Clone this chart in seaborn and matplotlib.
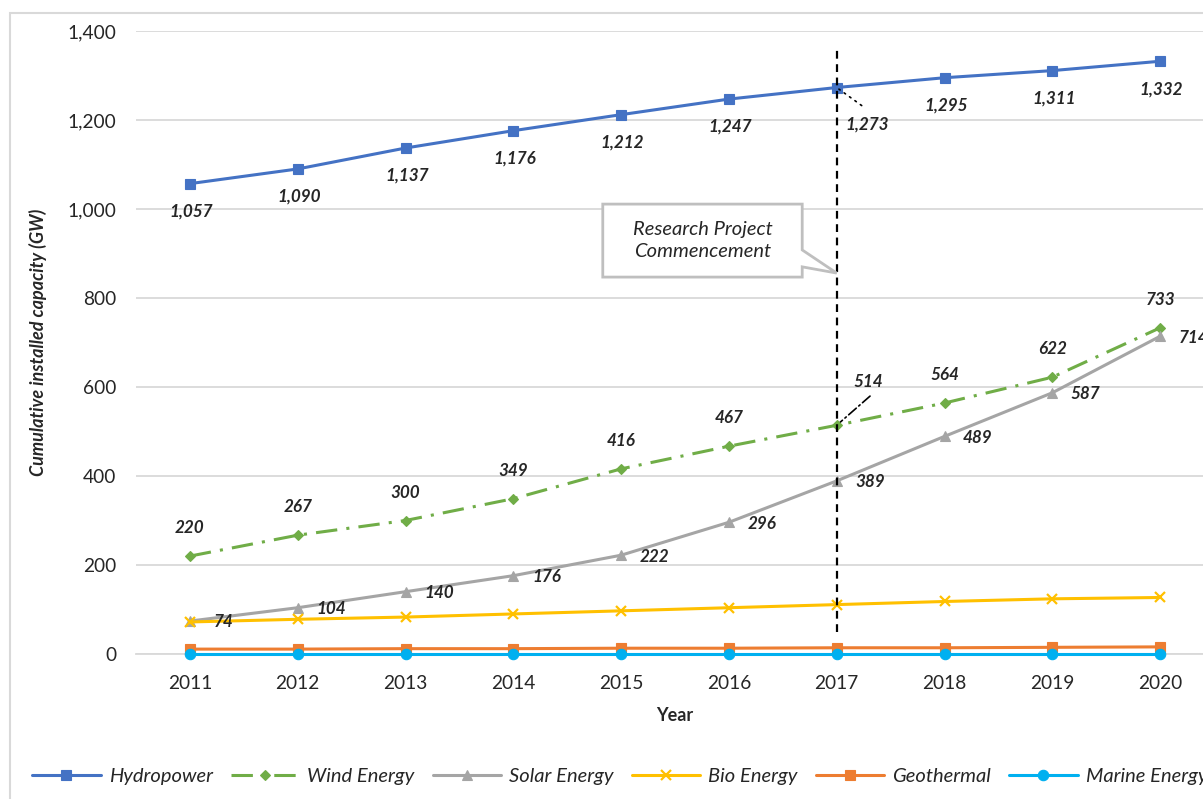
import matplotlib
matplotlib.use("Agg")
import matplotlib.pyplot as plt
import numpy as np
import seaborn as sns
from matplotlib.patches import Polygon, Rectangle

years = [2011, 2012, 2013, 2014, 2015, 2016, 2017, 2018, 2019, 2020]
hydro = [1057, 1090, 1137, 1176, 1212, 1247, 1273, 1295, 1311, 1332]
wind = [220, 267, 300, 349, 416, 467, 514, 564, 622, 733]
solar = [74, 104, 140, 176, 222, 296, 389, 489, 587, 714]
bio = [72, 78, 83, 90, 97, 104, 111, 118, 124, 127]
geo = [11, 11, 12, 12, 13, 13, 14, 14, 15, 16]
marine = [0.5, 0.5, 0.5, 0.5, 0.5, 0.5, 0.5, 0.5, 0.5, 0.5]
y_ticks = [0, 200, 400, 600, 800, 1000, 1200, 1400]
event_year = 2017
event_text = "Research Project\nCommencement"

sns.set_style("white")
plt.rcParams['font.family'] = ['Lato', 'DejaVu Sans']

fig = plt.figure(figsize=(12.03, 7.99), dpi=100)
ax = fig.add_axes([136 / 1203, 145 / 799, 1078 / 1203, 623 / 799])

# chart frame (excel style)
fig.patches.append(Rectangle((10 / 1203, -0.1), 1.2, 1.1 - 13 / 799, transform=fig.transFigure,
                             fill=False, edgecolor='#D9D9D9', lw=1.5))

series = [
    ("Hydropower", hydro, '#4472C4', 's', None, 7),
    ("Wind Energy", wind, '#70AD47', 'D', (7, 3, 1, 3), 5.5),
    ("Solar Energy", solar, '#A5A5A5', '^', None, 7),
    ("Bio Energy", bio, '#FFC000', 'x', None, 7),
    ("Geothermal", geo, '#ED7D31', 's', None, 7),
    ("Marine Energy", marine, '#00B0F0', 'o', None, 7.5),
]
for i, (name, vals, col, mk, dash, ms) in enumerate(series):
    sns.lineplot(x=years, y=vals, ax=ax, color=col, marker=mk, markersize=ms,
                 markeredgecolor=col, markerfacecolor=col, markeredgewidth=1.6 if mk == 'x' else 0.8,
                 linewidth=2.2, label=name, legend=False, clip_on=False, zorder=3 + i * 0.1)
    if dash is not None:
        ax.lines[-1].set_dashes(dash)

ax.set_xlim(years[0] - 0.5, years[-1] + 0.5)
ax.set_ylim(0, 1400)
ax.set_xticks(years)
ax.set_xticklabels([str(y) for y in years])
ax.set_yticks(y_ticks)
ax.set_yticklabels([f"{v:,}" for v in y_ticks])
ax.tick_params(axis='both', labelsize=13.8, length=0)
ax.tick_params(axis='y', pad=14)
ax.tick_params(axis='x', pad=15)
ax.grid(axis='y', color='#D9D9D9', lw=1.3)
ax.set_axisbelow(True)
for s in ['top', 'right', 'left']:
    ax.spines[s].set_visible(False)
ax.spines['bottom'].set_color('#D9D9D9')
ax.spines['bottom'].set_linewidth(1.3)
ax.spines['bottom'].set_zorder(1)

ax.set_xlabel("Year", fontsize=13, fontweight='bold', labelpad=11)
ax.set_ylabel("Cumulative installed capacity (GW)", fontsize=13, fontweight='bold',
              fontstyle='italic', labelpad=15)

# event line
ax.vlines(event_year, 50, 1357, colors='black', linestyles=(0, (3.5, 2.5)), lw=1.6, zorder=5)

lab = dict(fontsize=12.3, fontweight='bold', fontstyle='italic', ha='center', va='center',
           textcoords='offset points', zorder=8)
for x, v in zip(years, hydro):
    if x == event_year:
        ax.annotate(f"{v:,}", (x, v), xytext=(22, -27), **lab)
        ax.annotate("", (x, v), xytext=(18, -13), textcoords='offset points',
                    arrowprops=dict(arrowstyle='-', color='black', lw=1.2, ls=(0, (1, 3)),
                                    shrinkA=0, shrinkB=2))
    else:
        ax.annotate(f"{v:,}", (x, v), xytext=(1, -20), **lab)
for x, v in zip(years, wind):
    if x == event_year:
        ax.annotate(f"{v:,}", (x, v), xytext=(23, 31), **lab)
        ax.annotate("", (x, v), xytext=(24, 21), textcoords='offset points',
                    arrowprops=dict(arrowstyle='-', color='black', lw=1.2, ls=(0, (6, 2, 1, 2)),
                                    shrinkA=0, shrinkB=0))
    else:
        ax.annotate(f"{v:,}", (x, v), xytext=(0, 20), **lab)
for x, v in zip(years, solar):
    ax.annotate(f"{v:,}", (x, v), xytext=(24, -1), **lab)

# callout
callout = [(2014.83, 1011), (2016.68, 1011), (2016.68, 908), (event_year, 856),
           (2016.68, 870), (2016.68, 847), (2014.83, 847)]
ax.add_patch(Polygon(callout, closed=True, facecolor='white', edgecolor='#BFBFBF', lw=2, zorder=6))
ax.text((2014.83 + 2016.68) / 2, 929, event_text, ha='center', va='center', fontsize=14.5,
        fontstyle='italic', linespacing=1.3, zorder=7)

handles, labels = ax.get_legend_handles_labels()
fig.legend(handles, labels, loc='center left', bbox_to_anchor=(24 / 1203, 1 - 776 / 799),
           ncol=6, frameon=False, prop=dict(size=14.5, style='italic'), handlelength=3.4,
           handletextpad=0.4, columnspacing=0.9, borderaxespad=0)

plt.savefig('out.png', dpi=100)
plt.close()
